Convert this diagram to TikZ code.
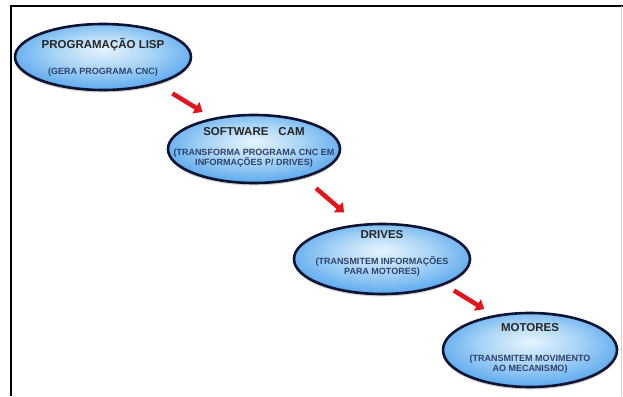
\documentclass[tikz,border=0pt]{standalone}
\usepackage{fontspec}
\setmainfont{Liberation Sans}
\usetikzlibrary{shapes.geometric,arrows.meta,calc,shadows}
\definecolor{bordo}{HTML}{0B1533}
\definecolor{vermelho}{HTML}{E3141B}
\definecolor{corlegenda}{HTML}{2F416B}
\definecolor{azul0}{HTML}{E8F4FD}
\definecolor{azul1}{HTML}{A8D4F6}
\definecolor{azul2}{HTML}{5AA8EE}
\definecolor{azul3}{HTML}{2F84DE}
\definecolor{azul4}{HTML}{1C5FB5}
\pgfdeclareradialshading{bolhashade}{\pgfpoint{0bp}{6bp}}{color(0bp)=(azul0); color(14bp)=(azul1); color(28bp)=(azul2); color(40bp)=(azul3); color(50bp)=(azul4)}
\begin{document}
\begin{tikzpicture}[x=1pt,y=-1pt,
        bolha/.style={ellipse,draw=bordo,line width=2.6pt,shading=bolhashade,inner sep=0pt,
            drop shadow={opacity=.35,shadow xshift=0pt,shadow yshift=-2.5pt}},
        titulo/.style={font=\fontsize{11.5}{13}\selectfont\bfseries,text=black!85},
        legenda/.style={font=\fontsize{9}{10}\selectfont\bfseries,text=corlegenda,align=center},
        seta/.style={draw=vermelho,line width=4.5pt,-{Triangle[length=8pt,width=13pt]}}]
        \useasboundingbox (0,0) rectangle (623,396);
        % moldura
        \draw[line width=1.6pt] (11,396)--(11,6)--(623,6);
        \draw[gray!35,line width=1pt] (621,6)--(621,396);

        \node[bolha,minimum width=176,minimum height=66] (lisp) at (103,57) {};
        \node[titulo] (lispT) at ($(lisp)+(0,-12)$) {PROGRAMAÇÃO LISP};
        \node[legenda] (lispL) at ($(lisp)+(0,15)$) {(GERA PROGRAMA CNC)};

        \node[bolha,minimum width=172,minimum height=68] (cam) at (254,149) {};
        \node[titulo] (camT) at ($(cam)+(0,-17)$) {SOFTWARE\hspace{10pt}CAM};
        \node[legenda] (camL) at ($(cam)+(0,9)$) {(TRANSFORMA PROGRAMA CNC EM\\INFORMAÇÕES P/ DRIVES)};

        \node[bolha,minimum width=176,minimum height=70] (drives) at (382,259) {};
        \node[titulo] (drivesT) at ($(drives)+(0,-24)$) {DRIVES};
        \node[legenda] (drivesL) at ($(drives)+(0,7.5)$) {(TRANSMITEM INFORMAÇÕES\\PARA MOTORES)};

        \node[bolha,minimum width=174,minimum height=74] (motores) at (530,350) {};
        \node[titulo] (motoresT) at ($(motores)+(0,-22)$) {MOTORES};
        \node[legenda] (motoresL) at ($(motores)+(0,14.5)$) {(TRANSMITEM MOVIMENTO\\AO MECANISMO)};

        \draw[seta] ($(lisp)!.44!(cam)+(3,-4)$)--($(lisp)!.64!(cam)+(3,-4)$);
        \draw[seta] ($(cam)!.43!(drives)+(7,-8)$)--($(cam)!.65!(drives)+(7,-8)$);
        \draw[seta] ($(drives)!.445!(motores)+(6,-9)$)--($(drives)!.65!(motores)+(6,-9)$);
\end{tikzpicture}
\end{document}
